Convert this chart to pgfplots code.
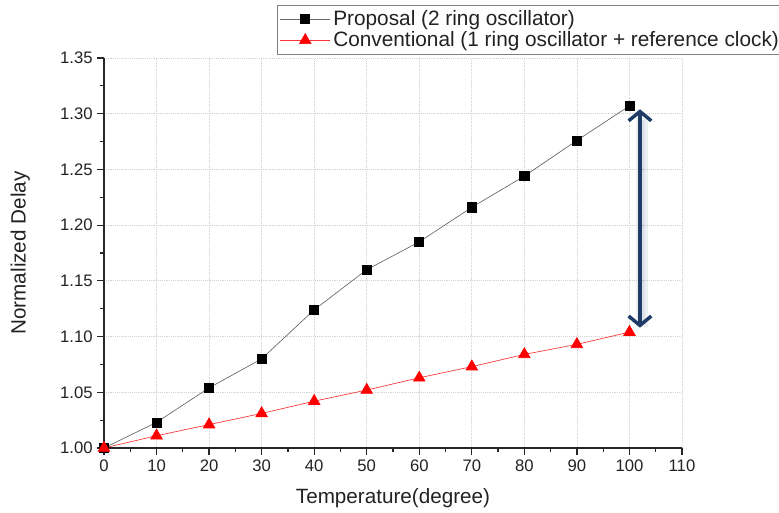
\documentclass[border=0pt]{standalone}
\usepackage{fontspec}
\setmainfont{Liberation Sans}
\usepackage{pgfplots}
\pgfplotsset{compat=1.18}
\usetikzlibrary{arrows.meta}
\definecolor{navy}{HTML}{1F3B68}
\definecolor{txt}{HTML}{222222}

\begin{document}
\begin{tikzpicture}
\begin{axis}[
  scale only axis, width=433.5pt, height=292.5pt,
  xmin=0, xmax=110, ymin=1.0, ymax=1.35,
  axis lines*=left,
  axis line style={line width=0.9pt, black!85},
  xtick={0,10,20,30,40,50,60,70,80,90,100,110},
  ytick={1.00,1.05,1.10,1.15,1.20,1.25,1.30,1.35},
  minor x tick num=1, minor y tick num=1,
  tick align=outside, major tick length=5pt, minor tick length=3pt,
  tick style={line width=0.9pt, black!85},
  /pgf/number format/assume math mode=true,
  yticklabel style={/pgf/number format/.cd, fixed, fixed zerofill, precision=2},
  ticklabel style={font=\fontsize{12.5}{14}\selectfont, text=txt},
  grid=major, major grid style={densely dotted, gray!35, line width=0.6pt},
  xlabel={Temperature(degree)}, ylabel={Normalized Delay},
  label style={font=\fontsize{15.5}{18}\selectfont, text=txt},
  xlabel style={at={(axis description cs:0.5,-0.128)}, anchor=center},
  ylabel style={at={(axis description cs:-0.145,0.5)}, anchor=center},
  legend style={at={(axis description cs:0.299,1.136)}, anchor=north west,
    draw=gray, line width=0.6pt, font=\fontsize{15.6}{18}\selectfont,
    text=txt, inner xsep=2pt, inner ysep=2pt, row sep=-1pt},
  legend cell align=left,
  legend image code/.code={\draw[mark repeat=2, mark phase=2]
    plot coordinates {(0cm,0cm) (0.66cm,0cm) (1.32cm,0cm)};},
  clip=false,
]
\addplot[gray!80!black, line width=0.5pt, mark=square*, mark size=3.4pt,
  mark options={fill=black, draw=black, solid}]
  coordinates {(0,1.000) (10,1.023) (20,1.054) (30,1.080) (40,1.124) (50,1.160)
    (60,1.185) (70,1.216) (80,1.244) (90,1.276) (100,1.307)};
\addlegendentry{Proposal (2 ring oscillator)}
\addplot[red!80!white, line width=0.5pt, mark=triangle*, mark size=5pt,
  mark options={fill=red, draw=red, solid}]
  coordinates {(0,1.000) (10,1.011) (20,1.021) (30,1.031) (40,1.042) (50,1.052)
    (60,1.063) (70,1.073) (80,1.084) (90,1.093) (100,1.104)};
\addlegendentry{Conventional (1 ring oscillator + reference clock)}
\draw[line width=9pt, navy, opacity=0.08, shorten >=1pt, shorten <=1pt]
  ([xshift=1.5pt,yshift=-2pt]axis cs:102,1.300) -- ([xshift=1.5pt,yshift=-2pt]axis cs:102,1.110);
\draw[line width=5pt, navy, opacity=0.08, shorten >=3pt, shorten <=3pt]
  ([xshift=1.5pt,yshift=-2pt]axis cs:102,1.300) -- ([xshift=1.5pt,yshift=-2pt]axis cs:102,1.110);
\draw[navy, line width=2.6pt, {Straight Barb[length=7pt,width=17pt]}-{Straight Barb[length=7pt,width=17pt]}]
  (axis cs:102,1.304) -- (axis cs:102,1.108);
\coordinate (O) at (rel axis cs:0,0);
\end{axis}
\pgfresetboundingbox
\path[use as bounding box] ([shift={(-78pt,-48.75pt)}]O) rectangle ([shift={(506.25pt,336pt)}]O);
\end{tikzpicture}
\end{document}
